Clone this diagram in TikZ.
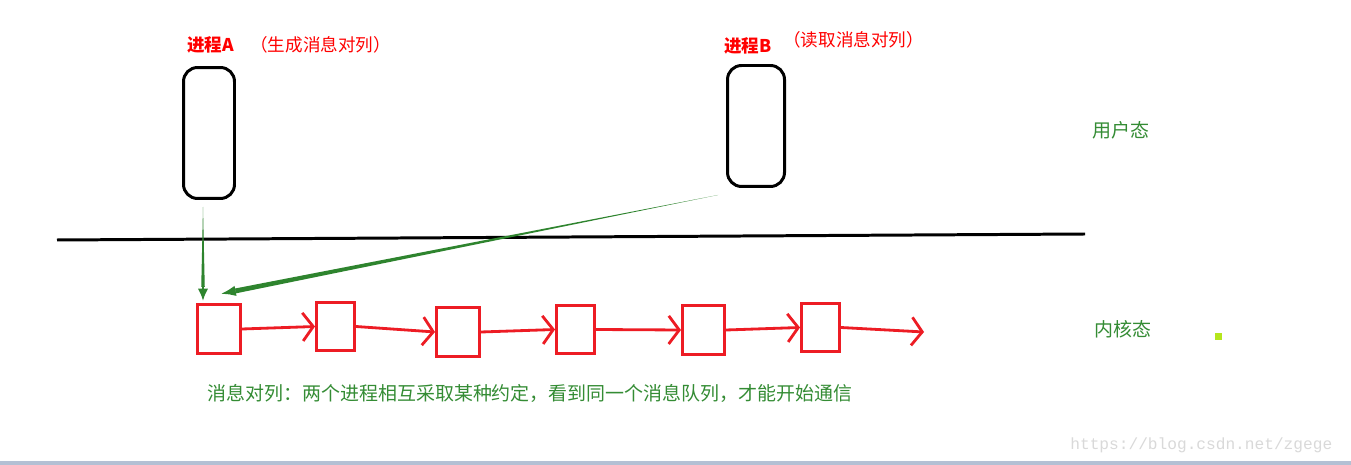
\documentclass[tikz,border=0pt]{standalone}
\usepackage{fontspec}
\setmonofont{Liberation Mono}
\newfontfamily\cjk{Noto Sans CJK SC}
\usetikzlibrary{arrows.meta,calc,positioning}
\definecolor{qred}{RGB}{237,28,36}
\definecolor{kgreen}{RGB}{46,132,46}
\definecolor{tgreen}{RGB}{52,140,52}
\definecolor{dotgreen}{RGB}{181,230,29}
\definecolor{barblue}{RGB}{180,192,212}

\tikzset{
	proc/.style={draw, line width=1.7pt, rounded corners=8pt, inner sep=0pt},
	queue/.style={draw=qred, line width=1.7pt, inner sep=0pt},
	link/.style={qred, line width=1.6pt, -{Straight Barb[length=6pt,width=16pt,line width=1.6pt]}},
	title/.style={text=red, font=\cjk\fontsize{10pt}{12pt}\selectfont, inner sep=0pt, anchor=west},
	note/.style={text=tgreen, font=\cjk\fontsize{10.8pt}{13pt}\selectfont, inner sep=0pt, anchor=west},
}

\begin{document}
\begin{tikzpicture}[x=0.02cm, y=-0.02cm]
\fill[white] (0,0) rectangle (1351,465);
\useasboundingbox (0,0) rectangle (1351,465);

% processes (user space)
\node[title] (tA) at (187,45) {\bfseries 进程A};
\node[title] (tA2) at (250,45) {（生成消息对列）};
\node[title] (tB) at (724,46) {\bfseries 进程B};
\node[title] (tB2) at (783,40) {（读取消息对列）};
\node[proc, minimum width=1.02cm, minimum height=2.62cm] (pA) at (209,133) {};
\node[proc, minimum width=1.14cm, minimum height=2.42cm] (pB) at (756,126) {};

% border user / kernel
\coordinate (l1) at (57,240);
\coordinate (l2) at (1085,234);
\draw[line width=1.7pt] (l1) -- (l2);
\node[note] (user) at (1092,130) {用户态};
\node[note] (kern) at (1094,329) {内核态};

% message queue
\node[queue, minimum width=0.86cm, minimum height=0.98cm] (q1) at (219,329) {};
\node[queue, minimum width=0.76cm, minimum height=0.96cm] (q2) at (335.5,326.5) {};
\node[queue, minimum width=0.86cm, minimum height=0.98cm] (q3) at (458,332) {};
\node[queue, minimum width=0.76cm, minimum height=0.96cm] (q4) at (575.5,329.5) {};
\node[queue, minimum width=0.84cm, minimum height=0.98cm] (q5) at (703.5,330) {};
\node[queue, minimum width=0.76cm, minimum height=0.96cm] (q6) at (820.5,327.5) {};
\coordinate (qend) at (924,332);
\draw[link] (q1.east) -- (q2.west);
\draw[link] (q2.east) -- (q3.west);
\draw[link] (q3.east) -- (q4.west);
\draw[link] (q4.east) -- (q5.west);
\draw[link] (q5.east) -- (q6.west);
\draw[link] (q6.east) -- (qend);

% green pointers
\coordinate (sA) at (203,207);
\coordinate (eA) at (203,301);
\coordinate (sB) at (718,195);
\coordinate (eB) at (220,294);
\fill[kgreen] (sA) -- ($(eA)!8pt!(sA)!1pt!90:(eA)$) -- ($(eA)!8pt!(sA)!1pt!-90:(eA)$) -- cycle;
\draw[kgreen, line width=1.4pt, -{Latex[length=7pt,width=6pt]}] ($(eA)!8pt!(sA)$) -- (eA);
\fill[kgreen] (sB) -- ($(eB)!9pt!(sB)!1.4pt!90:(eB)$) -- ($(eB)!9pt!(sB)!1.4pt!-90:(eB)$) -- cycle;
\draw[kgreen, line width=2pt, -{Latex[length=9pt,width=6pt]}] ($(eB)!9pt!(sB)$) -- (eB);

\node[note] (rule) at (207,393) {消息对列：两个进程相互采取某种约定，看到同一个消息队列，才能开始通信};

% screenshot leftovers
\fill[dotgreen] (1215,333) rectangle (1222,340);
\node[anchor=west, inner sep=0pt, text=gray!30, font=\ttfamily\fontsize{9.2pt}{10pt}\selectfont] (wm) at (1070,445) {https://blog.csdn.net/zgege};
\fill[barblue] (0,461) rectangle (1351,465);
\end{tikzpicture}
\end{document}
